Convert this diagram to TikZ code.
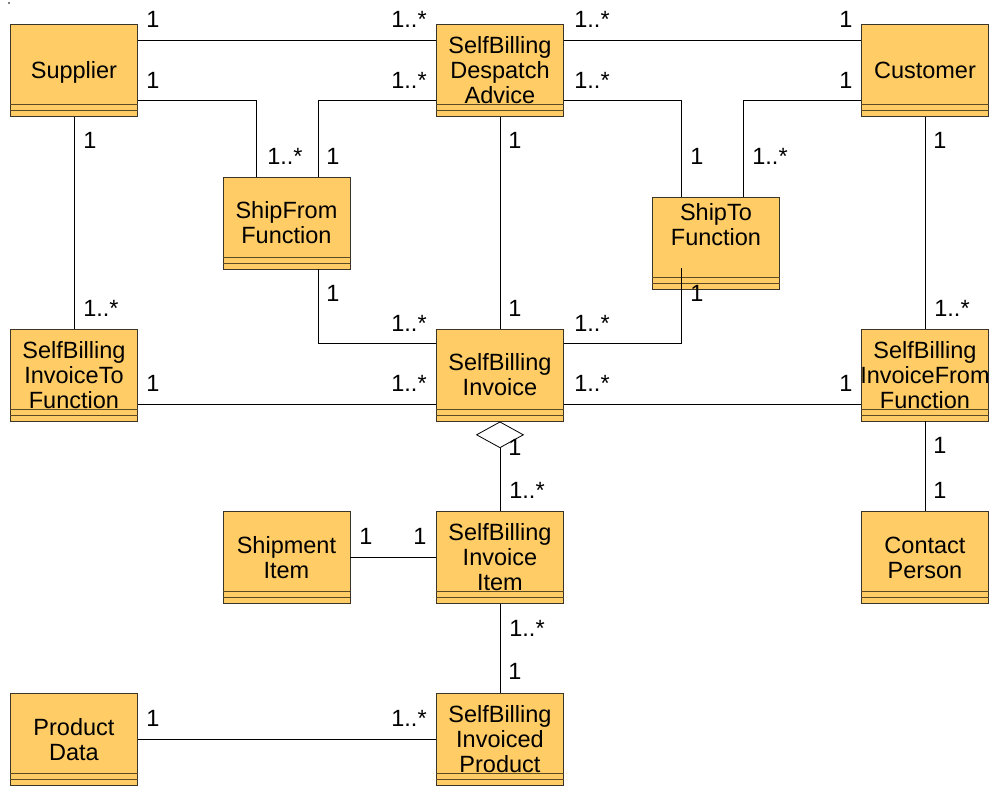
\documentclass[tikz,border=0pt]{standalone}
\usepackage{fontspec}
\setmainfont{Liberation Sans}
\usetikzlibrary{shapes.geometric}
\definecolor{boxfill}{HTML}{FFCC66}
\definecolor{boxline}{HTML}{3A3528}
\definecolor{sepline}{HTML}{5C4A24}
\begin{document}
\begin{tikzpicture}[x=1pt,y=-1pt,
  umlbox/.style={rectangle,draw=boxline,fill=boxfill,line width=0.9pt,
    minimum width=127pt,minimum height=92pt,inner sep=0pt,anchor=north west},
  umltext/.style={inner sep=0pt,align=center,text depth=0pt,
    font=\fontsize{23.5}{25}\selectfont},
  mult/.style={inner sep=0pt,font=\fontsize{23.5}{25}\selectfont},
  link/.style={draw=black,line width=0.8pt},
  aggr/.style={diamond,draw=black,fill=white,line width=0.8pt,
    minimum width=47pt,minimum height=26pt,inner sep=0pt,anchor=north}]
\useasboundingbox (0,0) rectangle (995,785);
\fill (9,3) circle (0.8pt);

% class boxes
\node[umlbox] (sup) at (10,24) {};
\node[umlbox] (sda) at (436,24) {};
\node[umlbox] (cus) at (861,24) {};
\node[umlbox] (sf)  at (222.5,176.5) {};
\node[umlbox] (st)  at (652,197) {};
\node[umlbox] (ito) at (10,328.5) {};
\node[umlbox] (inv) at (436,328.5) {};
\node[umlbox] (ifr) at (861,328.5) {};
\node[umlbox] (si)  at (222.5,511) {};
\node[umlbox] (ii)  at (436,511) {};
\node[umlbox] (cp)  at (861,511) {};
\node[umlbox] (pd)  at (10,693) {};
\node[umlbox] (ip)  at (436,693) {};

% empty attribute / operation compartments
\foreach \b in {sup,sda,cus,sf,st,ito,inv,ifr,si,ii,cp,pd,ip}{
  \draw[sepline,line width=0.9pt] ([yshift=12pt]\b.south west) -- ([yshift=12pt]\b.south east);
  \draw[sepline,line width=0.9pt] ([yshift=6pt]\b.south west) -- ([yshift=6pt]\b.south east);
}

% connectors
\draw[link] ([yshift=-16pt]sup.north east) -- ([yshift=-16pt]sda.north west);
\draw[link] ([yshift=-16pt]sda.north east) -- ([yshift=-16pt]cus.north west);
\draw[link] ([yshift=-76pt]sup.north east) -| ([xshift=33.5pt]sf.north west);
\draw[link] ([yshift=-76pt]sda.north west) -| ([xshift=-32pt]sf.north east);
\draw[link] ([yshift=-76pt]sda.north east) -| ([xshift=29pt]st.north west);
\draw[link] ([yshift=-76pt]cus.north west) -| ([xshift=-37pt]st.north east);
\draw[link] (sup.south) -- (ito.north);
\draw[link] (sda.south) -- (inv.north);
\draw[link] (cus.south) -- (ifr.north);
\draw[link] ([xshift=-32pt]sf.south east) |- ([yshift=-14.5pt]inv.north west);
\draw[link] ([xshift=29pt,yshift=22pt]st.south west) |- ([yshift=-14.5pt]inv.north east);
\draw[link] ([yshift=-76pt]ito.north east) -- ([yshift=-76pt]inv.north west);
\draw[link] ([yshift=-76pt]inv.north east) -- ([yshift=-76pt]ifr.north west);
\draw[link] (ifr.south) -- (cp.north);
\node[aggr] (dia) at (inv.south) {};
\draw[link] (dia.south) -- (ii.north);
\draw[link] (si.east) -- (ii.west);
\draw[link] (ii.south) -- (ip.north);
\draw[link] (pd.east) -- (ip.west);

% class names
\node[umltext] (sup-t) at (sup) {Supplier};
\node[umltext] (sda-t) at (sda) {SelfBilling\\Despatch\\Advice};
\node[umltext] (cus-t) at (cus) {Customer};
\node[umltext] (sf-t)  at (sf)  {ShipFrom\\Function};
\node[umltext] (st-t)  at ([yshift=-6pt]st.north) [anchor=north] {ShipTo\\Function};
\node[umltext] (ito-t) at (ito) {SelfBilling\\InvoiceTo\\Function};
\node[umltext] (inv-t) at (inv) {SelfBilling\\Invoice};
\node[umltext] (ifr-t) at (ifr) {SelfBilling\\InvoiceFrom\\Function};
\node[umltext] (si-t)  at (si)  {Shipment\\Item};
\node[umltext] (ii-t)  at (ii)  {SelfBilling\\Invoice\\Item};
\node[umltext] (cp-t)  at (cp)  {Contact\\Person};
\node[umltext] (pd-t)  at (pd)  {Product\\Data};
\node[umltext] (ip-t)  at (ip)  {SelfBilling\\Invoiced\\Product};

% multiplicities
\node[mult] (m1)  at (153,19) {1};
\node[mult] (m2)  at (409,19) {1..*};
\node[mult] (m3)  at (592,19) {1..*};
\node[mult] (m4)  at (846,19) {1};
\node[mult] (m5)  at (153,80) {1};
\node[mult] (m6)  at (409,80) {1..*};
\node[mult] (m7)  at (592,80) {1..*};
\node[mult] (m8)  at (846,80) {1};
\node[mult] (m9)  at (90,140) {1};
\node[mult] (m10) at (515,140) {1};
\node[mult] (m11) at (940,140) {1};
\node[mult] (m12) at (285,156) {1..*};
\node[mult] (m13) at (333,156) {1};
\node[mult] (m14) at (697,156) {1};
\node[mult] (m15) at (770,156) {1..*};
\node[mult] (m16) at (333,293) {1};
\node[mult] (m17) at (697,293) {1};
\node[mult] (m18) at (101,308) {1..*};
\node[mult] (m19) at (515,308) {1};
\node[mult] (m20) at (952,308) {1..*};
\node[mult] (m21) at (409,323) {1..*};
\node[mult] (m22) at (592,323) {1..*};
\node[mult] (m23) at (153,383) {1};
\node[mult] (m24) at (409,383) {1..*};
\node[mult] (m25) at (592,383) {1..*};
\node[mult] (m26) at (846,383) {1};
\node[mult] (m27) at (515,447) {1};
\node[mult] (m28) at (940,445) {1};
\node[mult] (m29) at (527,490) {1..*};
\node[mult] (m30) at (940,490) {1};
\node[mult] (m31) at (366,536) {1};
\node[mult] (m32) at (420,536) {1};
\node[mult] (m33) at (527,628) {1..*};
\node[mult] (m34) at (515,671) {1};
\node[mult] (m35) at (153,718) {1};
\node[mult] (m36) at (409,718) {1..*};
\end{tikzpicture}
\end{document}
